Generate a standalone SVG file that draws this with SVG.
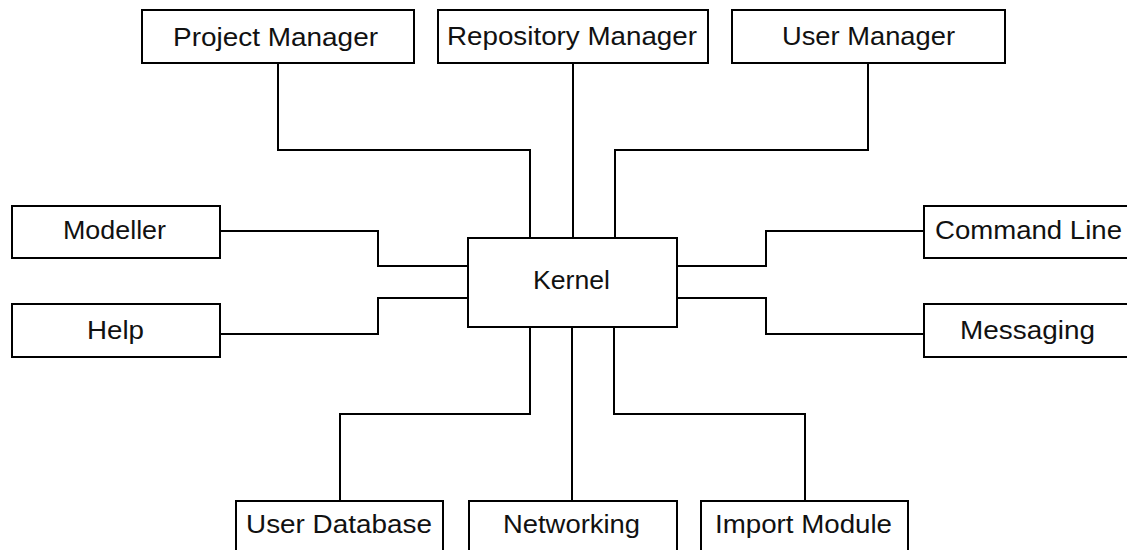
<svg xmlns="http://www.w3.org/2000/svg" width="1127" height="550" viewBox="0 0 1127 550">
<style>
.box{fill:#fff;stroke:#000;stroke-width:2}
.lbl{font-family:"Liberation Sans",Arial,sans-serif;font-size:26px;fill:#111;text-anchor:middle}
.conn{fill:none;stroke:#000;stroke-width:2}
</style>
<rect width="1127" height="550" fill="#fff"/>
<g id="connectors">
<polyline class="conn" points="278,63 278,150 530,150 530,238"/>
<polyline class="conn" points="573,63 573,238"/>
<polyline class="conn" points="868,63 868,150 615,150 615,238"/>
<polyline class="conn" points="220,231 378,231 378,266 468,266"/>
<polyline class="conn" points="220,334 378,334 378,298 468,298"/>
<polyline class="conn" points="924,231 766,231 766,266 677,266"/>
<polyline class="conn" points="924,334 766,334 766,298 677,298"/>
<polyline class="conn" points="530,327 530,414 340,414 340,501"/>
<polyline class="conn" points="572,327 572,501"/>
<polyline class="conn" points="614,327 614,414 805,414 805,501"/>
</g>
<g id="project-manager"><rect class="box" x="142" y="10" width="272" height="53"/><text class="lbl" x="275.5" y="46" textLength="205" lengthAdjust="spacingAndGlyphs">Project Manager</text></g>
<g id="repository-manager"><rect class="box" x="438" y="10" width="270" height="53"/><text class="lbl" x="572" y="45" textLength="250" lengthAdjust="spacingAndGlyphs">Repository Manager</text></g>
<g id="user-manager"><rect class="box" x="732" y="10" width="273" height="53"/><text class="lbl" x="868.5" y="45" textLength="173" lengthAdjust="spacingAndGlyphs">User Manager</text></g>
<g id="modeller"><rect class="box" x="12" y="206" width="208" height="52"/><text class="lbl" x="114.5" y="239" textLength="103" lengthAdjust="spacingAndGlyphs">Modeller</text></g>
<g id="help"><rect class="box" x="12" y="304" width="208" height="53"/><text class="lbl" x="115.5" y="339" textLength="57" lengthAdjust="spacingAndGlyphs">Help</text></g>
<g id="kernel"><rect class="box" x="468" y="238" width="209" height="89"/><text class="lbl" x="571.5" y="289" textLength="77" lengthAdjust="spacingAndGlyphs">Kernel</text></g>
<g id="command-line"><rect class="box" x="924" y="206" width="210" height="52"/><text class="lbl" x="935" y="239" style="text-anchor:start" textLength="187" lengthAdjust="spacingAndGlyphs">Command Line</text></g>
<g id="messaging"><rect class="box" x="924" y="304" width="210" height="53"/><text class="lbl" x="1027.5" y="339" textLength="135" lengthAdjust="spacingAndGlyphs">Messaging</text></g>
<g id="user-database"><rect class="box" x="236" y="501" width="207" height="60"/><text class="lbl" x="339" y="533" textLength="186" lengthAdjust="spacingAndGlyphs">User Database</text></g>
<g id="networking"><rect class="box" x="469" y="501" width="208" height="60"/><text class="lbl" x="571.5" y="533" textLength="137" lengthAdjust="spacingAndGlyphs">Networking</text></g>
<g id="import-module"><rect class="box" x="701" y="501" width="207" height="60"/><text class="lbl" x="803.5" y="533" textLength="177" lengthAdjust="spacingAndGlyphs">Import Module</text></g>
</svg>
